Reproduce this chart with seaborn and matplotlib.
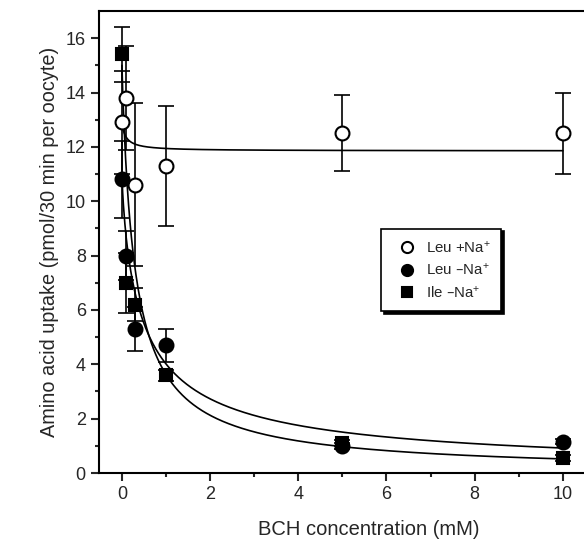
import numpy as np
import pandas as pd
import matplotlib
matplotlib.use("Agg")
import matplotlib.pyplot as plt
import seaborn as sns

# BCH concentrations (mM)
bch = [0, 0.1, 0.3, 1, 5, 10]

# uptake values (pmol/30 min per oocyte) and SEM
leu_na = [12.9, 13.8, 10.6, 11.3, 12.5, 12.5]
leu_na_err = [1.9, 1.9, 3.0, 2.2, 1.4, 1.5]
leu_nona = [10.8, 8.0, 5.3, 4.7, 1.0, 1.15]
leu_nona_err = [1.4, 0.9, 0.8, 0.6, 0.1, 0.1]
ile_nona = [15.4, 7.0, 6.2, 3.6, 1.1, 0.55]
ile_nona_err = [1.0, 1.1, 0.6, 0.2, 0.1, 0.1]

labels = ['Leu +Na$^{+}$', 'Leu \u2013Na$^{+}$', 'Ile \u2013Na$^{+}$']

# fitted inhibition curves: base + top / (1 + (x/K)^n)
fit_leu_na = dict(base=11.85, top=1.0, K=0.1, n=1.0)
fit_leu_nona = dict(base=0.0, top=11.0, K=0.5, n=0.8)
fit_ile_nona = dict(base=0.0, top=15.0, K=0.3, n=0.95)


def inhib(x, base, top, K, n):
    return base + top / (1 + (x / K) ** n)


sns.set_theme(style="ticks")
plt.rcParams['font.family'] = ['Liberation Sans', 'DejaVu Sans']
plt.rcParams['mathtext.default'] = 'regular'

fig = plt.figure(figsize=(5.84, 5.48), dpi=100)
ax = fig.add_axes([99 / 584, 1 - 473 / 548, 1 - 99 / 584, 462 / 548])

xs = np.linspace(0, 10, 600)
curves = pd.concat([
    pd.DataFrame({'x': xs, 'y': inhib(xs, **p), 'set': name})
    for name, p in [('a', fit_leu_na), ('b', fit_leu_nona), ('c', fit_ile_nona)]
])
sns.lineplot(data=curves, x='x', y='y', units='set', estimator=None,
             color='black', lw=1.2, ax=ax, legend=False)

series = [
    (leu_na, leu_na_err, 'o', 'white', labels[0], 10),
    (leu_nona, leu_nona_err, 'o', 'black', labels[1], 10),
    (ile_nona, ile_nona_err, 's', 'black', labels[2], 8.5),
]
for y, err, mk, fc, lab, ms in series:
    ax.errorbar(bch, y, yerr=err, fmt='none', ecolor='black', elinewidth=1.2,
                capsize=5.8, capthick=1.2, zorder=3)
    ax.plot(bch, y, ls='none', marker=mk, ms=ms, mfc=fc, mec='black',
            mew=1.5, label=lab, zorder=4)

ax.set_xlim(-0.52, 10.48)
ax.set_ylim(0, 17)
ax.set_xticks([0, 2, 4, 6, 8, 10])
ax.set_xticks([1, 3, 5, 7, 9], minor=True)
ax.set_yticks(range(0, 17, 2))
ax.set_yticks(range(1, 17, 2), minor=True)
ax.tick_params(which='major', length=6, width=1.5, labelsize=13, direction='out')
ax.tick_params(which='minor', length=3, width=1.5, direction='out')
for s in ['left', 'bottom', 'top']:
    ax.spines[s].set_linewidth(1.5)
    ax.spines[s].set_color('black')
ax.spines['right'].set_visible(False)

ax.set_xlabel('BCH concentration (mM)', fontsize=14.5, labelpad=12)
ax.xaxis.label.set_x(0.557)
ax.set_ylabel('Amino acid uptake (pmol/30 min per oocyte)', fontsize=14.3, labelpad=5)

leg = ax.legend(loc='upper left', bbox_to_anchor=(0.566, 0.545), fontsize=10.8,
                frameon=True, fancybox=False, edgecolor='black',
                shadow={'color': 'black', 'alpha': 1}, borderpad=0.7,
                labelspacing=0.45, handletextpad=0.3, markerscale=0.8)
leg.get_frame().set_linewidth(1.2)

fig.savefig('out.png', dpi=100)
